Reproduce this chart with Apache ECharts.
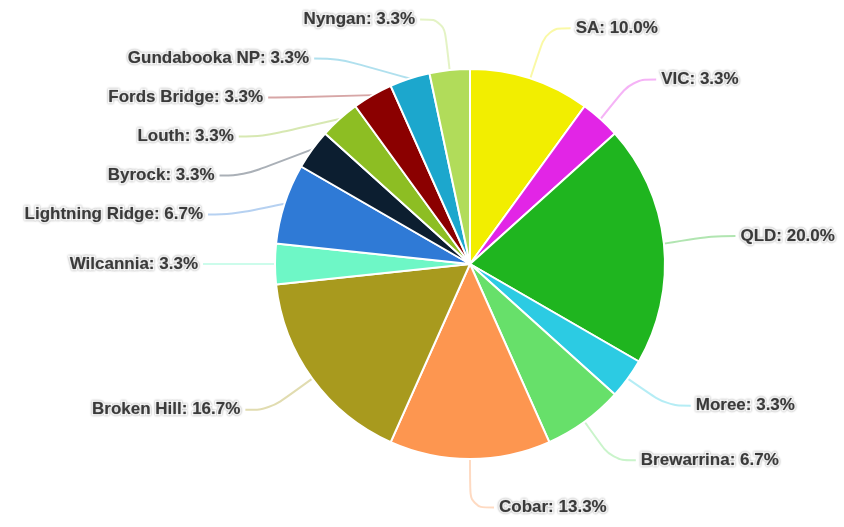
<!DOCTYPE html>
<html>
<head>
<meta charset="utf-8">
<script src="https://cdn.jsdelivr.net/npm/echarts@6/dist/echarts.min.js"></script>
<style>
  html, body { margin: 0; padding: 0; background: #fff; }
  #cn { width: 844px; height: 527px; }
</style>
</head>
<body>
<div id="cn"></div>
<script>
'use strict';

// slices, clockwise from 12 o'clock
const names = ['SA', 'VIC', 'QLD', 'Moree', 'Brewarrina', 'Cobar', 'Broken Hill', 'Wilcannia',
    'Lightning Ridge', 'Byrock', 'Louth', 'Fords Bridge', 'Gundabooka NP', 'Nyngan'];
const counts = [3, 1, 6, 1, 2, 4, 5, 1, 2, 1, 1, 1, 1, 1];
const colors = ['#f2ee00', '#e225e6', '#1fb51f', '#2ccbe3', '#67e06a', '#fd9650', '#a89a1e', '#6ef7c6',
    '#2f7ad6', '#0c1e30', '#8dbe23', '#8b0000', '#1ca7cd', '#b1dc5a'];

const pieData = names.map((n, i) => ({
    name: n,
    value: counts[i],
    itemStyle: { color: colors[i] }
}));

const pieChart = echarts.init(document.getElementById('cn'));

const option = {
    animation: false,
    series: [{
        type: 'pie',
        center: [470, 264],
        radius: 195,
        startAngle: 90,
        clockwise: true,
        data: pieData,
        itemStyle: {
            borderColor: '#fff',
            borderWidth: 2
        },
        label: {
            formatter: p => `${p.name}: ${p.percent.toFixed(1)}%`,
            fontFamily: 'Liberation Sans, Arial, sans-serif',
            fontSize: 17,
            fontWeight: 'bold',
            color: '#3a3a3a',
            lineHeight: 37,
            overflow: 'none',
            textBorderColor: '#fff',
            textBorderWidth: 3,
            textShadowColor: 'rgba(0,0,0,0.4)',
            textShadowBlur: 2
        },
        labelLine: {
            show: true,
            length: 53,
            length2: 24,
            smooth: 0.4,
            lineStyle: {
                width: 2,
                opacity: 0.35
            }
        }
    }]
};

pieChart.setOption(option);
</script>
</body>
</html>
